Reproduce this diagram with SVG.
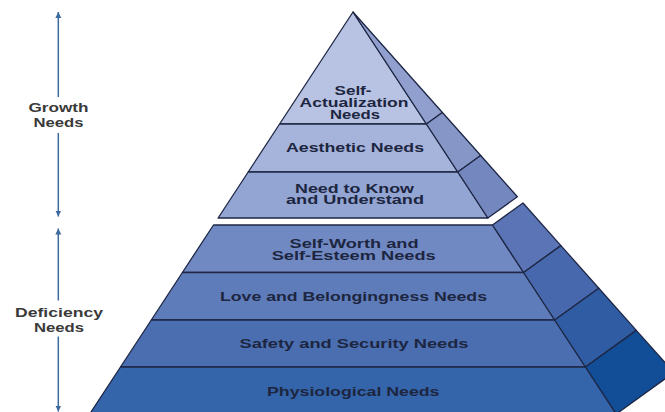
<svg xmlns="http://www.w3.org/2000/svg" width="665" height="412" viewBox="0 0 665 412">
<style>
.f{stroke:#1e2745;stroke-width:1.3;stroke-linejoin:round}
.t{font-family:"Liberation Sans",Arial,sans-serif;font-weight:bold;font-size:12.5px;fill:#1d2640}
.l{font-family:"Liberation Sans",Arial,sans-serif;font-weight:bold;font-size:13px;fill:#3a3a3a}
.a{stroke:#3d6a9e;stroke-width:1.5;fill:none}
</style>
<defs>
<marker id="ah" viewBox="0 0 10 10" refX="10" refY="5" markerUnits="userSpaceOnUse" markerWidth="6" markerHeight="7" orient="auto">
<path d="M0,0 L10,5 L0,10 z" fill="#3d6a9e"/>
</marker>
</defs>
<rect width="665" height="412" fill="#ffffff"/>
<g id="self-actualization">
<polygon class="f" fill="#b8c2e2" points="353,12 426.4,124 279.6,124"/>
<polygon class="f" fill="#909fcd" points="353,12 442.4,112.5 426.4,124"/>
<text class="t" x="334.5" y="95" textLength="37" lengthAdjust="spacingAndGlyphs">Self-</text>
<text class="t" x="299.5" y="107" textLength="109" lengthAdjust="spacingAndGlyphs">Actualization</text>
<text class="t" x="330" y="119" textLength="50" lengthAdjust="spacingAndGlyphs">Needs</text>
</g>
<g id="aesthetic">
<polygon class="f" fill="#a6b3da" points="279.6,124 426.4,124 457.8,172 248.2,172"/>
<polygon class="f" fill="#8696c7" points="426.4,124 442.4,112.5 480.7,155.5 457.8,172"/>
<text class="t" x="286" y="152.3" textLength="138" lengthAdjust="spacingAndGlyphs">Aesthetic Needs</text>
</g>
<g id="know-understand">
<polygon class="f" fill="#93a5d3" points="248.2,172 457.8,172 487.9,218 218.1,218"/>
<polygon class="f" fill="#7487bf" points="457.8,172 480.7,155.5 517.4,196.8 487.9,218"/>
<text class="t" x="295" y="193.3" textLength="119" lengthAdjust="spacingAndGlyphs">Need to Know</text>
<text class="t" x="286" y="204.3" textLength="138" lengthAdjust="spacingAndGlyphs">and Understand</text>
</g>
<g id="self-worth">
<polygon class="f" fill="#7189c3" points="213.5,225 492.5,225 523.6,272.5 182.4,272.5"/>
<polygon class="f" fill="#5a74b5" points="492.5,225 523,203 560.9,245.6 523.6,272.5"/>
<text class="t" x="289.5" y="248.3" textLength="129" lengthAdjust="spacingAndGlyphs">Self-Worth and</text>
<text class="t" x="271.7" y="260" textLength="164" lengthAdjust="spacingAndGlyphs">Self-Esteem Needs</text>
</g>
<g id="love-belongingness">
<polygon class="f" fill="#5f7cba" points="182.4,272.5 523.6,272.5 554.7,320 151.3,320"/>
<polygon class="f" fill="#4868ad" points="523.6,272.5 560.9,245.6 598.8,288.2 554.7,320"/>
<text class="t" x="220" y="301" textLength="267" lengthAdjust="spacingAndGlyphs">Love and Belongingness Needs</text>
</g>
<g id="safety-security">
<polygon class="f" fill="#4b6eb1" points="151.3,320 554.7,320 585.5,367 120.5,367"/>
<polygon class="f" fill="#305ca4" points="554.7,320 598.8,288.2 636.3,330.4 585.5,367"/>
<text class="t" x="239.5" y="348.3" textLength="229" lengthAdjust="spacingAndGlyphs">Safety and Security Needs</text>
</g>
<g id="physiological">
<polygon class="f" fill="#3464aa" points="120.5,367 585.5,367 616.3,414 89.7,414"/>
<polygon class="f" fill="#114e97" points="585.5,367 636.3,330.4 673.9,372.5 616.3,414"/>
<text class="t" x="267" y="395.7" textLength="172.5" lengthAdjust="spacingAndGlyphs">Physiological Needs</text>
</g>
<g id="growth-label">
<text class="l" x="28.5" y="111.5" textLength="60" lengthAdjust="spacingAndGlyphs">Growth</text>
<text class="l" x="33.5" y="127" textLength="50" lengthAdjust="spacingAndGlyphs">Needs</text>
</g>
<g id="deficiency-label">
<text class="l" x="15" y="316.5" textLength="88" lengthAdjust="spacingAndGlyphs">Deficiency</text>
<text class="l" x="34" y="332" textLength="50" lengthAdjust="spacingAndGlyphs">Needs</text>
</g>
<g id="connectors">
<path class="a" d="M58.3,97 L58.3,12" marker-end="url(#ah)"/>
<path class="a" d="M58.3,133 L58.3,216.5" marker-end="url(#ah)"/>
<path class="a" d="M58.3,300.5 L58.3,228.5" marker-end="url(#ah)"/>
<path class="a" d="M58.3,336.5 L58.3,411.5" marker-end="url(#ah)"/>
</g>
</svg>
